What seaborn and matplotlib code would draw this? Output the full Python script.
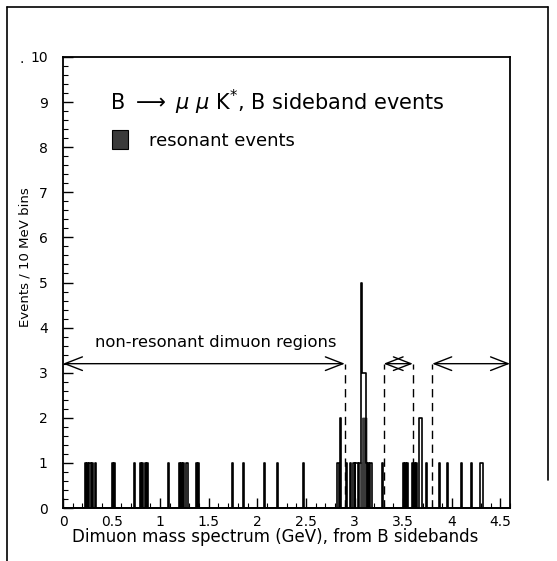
import numpy as np
import pandas as pd
import matplotlib
matplotlib.use("Agg")
import matplotlib.pyplot as plt
from matplotlib.patches import Rectangle
from matplotlib.lines import Line2D
import seaborn as sns

# ---- data (bin centres in GeV, 10 MeV bins) ----
all_mass = [0.235, 0.255, 0.275, 0.285, 0.305, 0.335, 0.505, 0.525, 0.735,
            0.795, 0.815, 0.845, 0.865, 1.085, 1.195, 1.215, 1.235, 1.245,
            1.275, 1.285, 1.375, 1.395, 1.745, 1.855, 2.075, 2.205, 2.475,
            2.825, 2.835, 2.855, 2.915, 2.955, 2.985, 2.995, 3.015, 3.025,
            3.035, 3.055, 3.065, 3.075, 3.085, 3.095, 3.105, 3.115, 3.125,
            3.145, 3.165, 3.175, 3.285, 3.505, 3.525, 3.545, 3.595, 3.615,
            3.635, 3.665, 3.675, 3.685, 3.745, 3.875, 3.955, 4.105, 4.205,
            4.295, 4.305, 4.315]
all_counts = [1, 1, 1, 1, 1, 1, 1, 1, 1,
              1, 1, 1, 1, 1, 1, 1, 1, 1,
              1, 1, 1, 1, 1, 1, 1, 1, 1,
              1, 1, 2, 1, 1, 1, 1, 1, 1,
              1, 1, 1, 5, 3, 3, 3, 3, 1,
              1, 1, 1, 1, 1, 1, 1, 1, 1,
              1, 2, 2, 2, 1, 1, 1, 1, 1,
              1, 1, 1]
res_mass = [3.065, 3.075, 3.085, 3.095, 3.105, 3.115, 3.125]
res_counts = [1, 1, 2, 2, 2, 2, 1]

region_edges = [2.9, 3.3, 3.6, 3.8]
x_ticks = [0, 0.5, 1, 1.5, 2, 2.5, 3, 3.5, 4, 4.5]
x_ticklabels = ["0", "0.5", "1", "1.5", "2", "2.5", "3", "3.5", "4", "4.5"]
y_ticks = list(range(0, 11))

df_all = pd.DataFrame({"mass": all_mass, "n": all_counts})
df_res = pd.DataFrame({"mass": res_mass, "n": res_counts})

sns.set_style("ticks")
plt.rcParams['font.family'] = ['DejaVu Sans']
plt.rcParams['mathtext.fontset'] = 'dejavusans'
plt.rcParams['text.color'] = 'black'
plt.rcParams['xtick.color'] = 'black'
plt.rcParams['ytick.color'] = 'black'
plt.rcParams['xtick.labelcolor'] = 'black'
plt.rcParams['ytick.labelcolor'] = 'black'
plt.rcParams['axes.edgecolor'] = 'black'

fig = plt.figure(figsize=(5.57, 5.61), dpi=100)
ax = fig.add_axes([63/557, 1-508/561, (510-63)/557, (508-57)/561])

sns.histplot(data=df_res, x="mass", weights="n", binwidth=0.01,
             binrange=(0, 4.6), element="step",
             fill=True, color="#3a3a3a", alpha=1, linewidth=1.0,
             edgecolor="#3a3a3a", ax=ax)
sns.histplot(data=df_all, x="mass", weights="n", binwidth=0.01,
             binrange=(0, 4.6), element="step",
             fill=False, color="black", linewidth=1.2, ax=ax)

ax.set_xlim(0, 4.6)
ax.set_ylim(0, 10)

# dashed region boundaries
for xe in region_edges:
    ax.plot([xe, xe], [0, 3.2], color="black", lw=1, ls=(0, (6, 4)))

# double arrows
arrow_kw = dict(arrowstyle="<->,head_length=0.9,head_width=0.35",
                color="black", lw=1, shrinkA=0, shrinkB=0,
                mutation_scale=14)
ax.annotate("", xy=(0, 3.2), xytext=(region_edges[0], 3.2), arrowprops=arrow_kw)
ax.annotate("", xy=(region_edges[1], 3.2), xytext=(region_edges[2], 3.2), arrowprops=arrow_kw)
ax.annotate("", xy=(region_edges[3], 3.2), xytext=(4.6, 3.2), arrowprops=arrow_kw)

ax.text(0.33, 3.66, "non-resonant dimuon regions", fontsize=11.8,
        ha="left", va="center")
ax.text(0.48, 9.0, r"B $\longrightarrow$ $\mu$ $\mu$ K$^{*}$, B sideband events",
        fontsize=15, ha="left", va="center")
ax.add_patch(Rectangle((0.50, 7.95), 0.17, 0.44, facecolor="#3a3a3a",
                       edgecolor="black", lw=0.8))
ax.text(0.89, 8.14, "resonant events", fontsize=13, ha="left", va="center")

ax.set_xticks(x_ticks)
ax.set_xticklabels(x_ticklabels)
ax.set_xticks(np.round(np.arange(0, 4.61, 0.1), 2), minor=True)
ax.set_yticks(y_ticks)
ax.set_yticks(np.round(np.arange(0, 10.01, 0.2), 2), minor=True)
ax.tick_params(axis="both", which="major", direction="in", length=7,
               width=1, labelsize=10)
ax.tick_params(axis="both", which="minor", direction="in", length=3.5,
               width=0.8)
ax.tick_params(axis="x", which="major", pad=5)
ax.tick_params(axis="y", which="major", pad=11)
for s in ax.spines.values():
    s.set_linewidth(1.3)
    s.set_visible(True)

ax.set_xlabel("")
ax.set_ylabel("")
fig.text(275/557, 1-537/561, "Dimuon mass spectrum (GeV), from B sidebands",
         fontsize=12, ha="center", va="center")
fig.text(25/557, 1-257/561, "Events / 10 MeV bins", fontsize=9.5,
         rotation=90, ha="center", va="center")
fig.text(22/557, 1-63/561, "\u00b7", fontsize=10, ha="center", va="center")

# outer frame
fw, fh = 557, 561
fig.add_artist(Line2D([7/fw, 7/fw], [0, 1-7/fh], color="black", lw=1.2))
fig.add_artist(Line2D([7/fw, 548/fw], [1-7/fh, 1-7/fh], color="black", lw=1.2))
fig.add_artist(Line2D([548/fw, 548/fw], [1-7/fh, 1-480/fh], color="black", lw=1.2))

fig.savefig("out.png", dpi=100)
